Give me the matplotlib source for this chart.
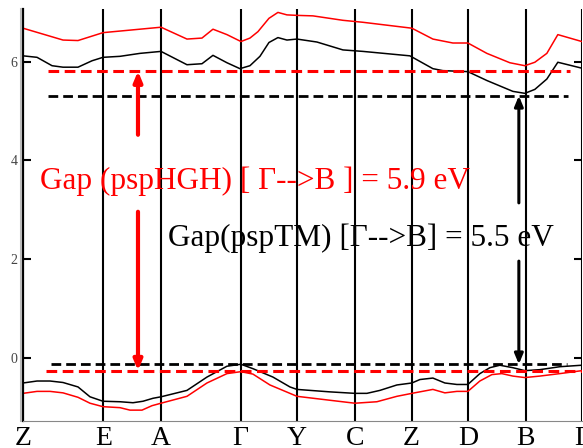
import matplotlib
matplotlib.use('Agg')
import matplotlib.pyplot as plt
from matplotlib.lines import Line2D

# k-path (distance along path)
kpoints = [0, 80.3, 138, 217.7, 274, 332, 388.7, 445.3, 502.7, 559]
klabels = ['Z', 'E', 'A', 'Γ', 'Y', 'C', 'Z', 'D', 'B', 'Γ']

# conduction band, pspHGH (red)
k_cb_hgh = [0, 40, 55, 80, 138, 164, 179, 190, 204, 218, 227, 235, 246, 255, 264, 274,
            290, 320, 340, 389, 410, 430, 445, 464, 487, 502, 512, 524, 535, 559]
cb_hgh = [6.68, 6.44, 6.43, 6.59, 6.70, 6.46, 6.48, 6.66, 6.55, 6.41, 6.48, 6.61, 6.88, 7.0, 6.95, 6.94,
          6.93, 6.84, 6.80, 6.68, 6.46, 6.38, 6.38, 6.17, 5.98, 5.92, 5.99, 6.17, 6.55, 6.41]

# conduction band, pspTM (black)
k_cb_tm = [0, 14, 29, 40, 55, 69, 80, 97, 117, 138, 164, 179, 190, 204, 217, 227, 237, 246, 255,
           264, 274, 294, 320, 340, 387, 410, 420, 445, 464, 490, 502, 512, 524, 535, 559]
cb_tm = [6.12, 6.09, 5.92, 5.89, 5.89, 6.02, 6.09, 6.11, 6.17, 6.21, 5.94, 5.96, 6.13, 5.98, 5.86, 5.92, 6.11, 6.39, 6.49,
         6.44, 6.46, 6.40, 6.24, 6.21, 6.12, 5.86, 5.82, 5.80, 5.62, 5.40, 5.36, 5.44, 5.65, 5.99, 5.87]

# valence band, pspTM (black)
k_vb_tm = [0, 14, 27, 40, 55, 67, 80, 97, 110, 120, 130, 138, 164, 184, 204, 218, 230, 250, 267,
           274, 307, 332, 344, 357, 374, 389, 397, 410, 422, 434, 445, 457, 467, 477, 490, 502, 517, 537, 559]
vb_tm = [-0.51, -0.47, -0.47, -0.50, -0.59, -0.79, -0.88, -0.89, -0.91, -0.88, -0.82, -0.79, -0.66, -0.39, -0.17, -0.13, -0.22, -0.39, -0.59,
         -0.64, -0.69, -0.72, -0.72, -0.66, -0.55, -0.51, -0.44, -0.41, -0.51, -0.54, -0.54, -0.32, -0.20, -0.15, -0.20, -0.26, -0.24, -0.18, -0.15]

# valence band, pspHGH (red)
k_vb_hgh = [0, 14, 27, 40, 55, 67, 80, 97, 107, 119, 129, 138, 164, 184, 204, 218, 230, 247, 267,
            274, 307, 332, 354, 374, 389, 410, 422, 434, 445, 457, 469, 479, 490, 502, 517, 537, 559]
vb_hgh = [-0.72, -0.68, -0.68, -0.71, -0.80, -0.92, -0.99, -1.01, -1.06, -1.06, -0.97, -0.92, -0.78, -0.51, -0.32, -0.28, -0.33, -0.55, -0.72,
          -0.78, -0.86, -0.92, -0.89, -0.78, -0.72, -0.64, -0.71, -0.68, -0.68, -0.47, -0.34, -0.32, -0.37, -0.40, -0.37, -0.32, -0.26]

# band edges
cbm_hgh, cbm_tm = 5.81, 5.31
vbm_tm, vbm_hgh = -0.13, -0.26

serif = 'Liberation Serif'

fig = plt.figure(figsize=(5.83, 4.48), dpi=100)
ax = fig.add_axes([0.0395, 0.0603, 0.9585, 0.9197])

for k in kpoints[1:]:
    ax.axvline(k, color='black', lw=1.5, zorder=1)

ax.plot(k_cb_hgh, cb_hgh, color='red', lw=1.1)
ax.plot(k_cb_tm, cb_tm, color='black', lw=1.1)
ax.plot(k_vb_hgh, vb_hgh, color='red', lw=1.1)
ax.plot(k_vb_tm, vb_tm, color='black', lw=1.1)

ax.plot([25, 547], [cbm_hgh, cbm_hgh], color='red', lw=2.2, dashes=(3.5, 1.8))
ax.plot([25, 545], [cbm_tm, cbm_tm], color='black', lw=2.0, dashes=(3.5, 1.8))
ax.plot([28, 544], [vbm_tm, vbm_tm], color='black', lw=2.0, dashes=(3.5, 1.8))
ax.plot([23, 559], [vbm_hgh, vbm_hgh], color='red', lw=2.2, dashes=(3.5, 1.8))

# arrows (split by the text)
red_arrow = dict(arrowstyle='-|>,head_length=0.6,head_width=0.25', color='red', lw=3, shrinkA=0, shrinkB=0)
blk_arrow = dict(arrowstyle='-|>,head_length=0.6,head_width=0.25', color='black', lw=2.2, shrinkA=0, shrinkB=0)
ax.annotate('', xy=(115, cbm_hgh), xytext=(115, 4.52), arrowprops=red_arrow)
ax.annotate('', xy=(115, vbm_hgh), xytext=(115, 2.96), arrowprops=red_arrow)
ax.annotate('', xy=(496, cbm_tm), xytext=(496, 3.14), arrowprops=blk_arrow)
ax.annotate('', xy=(496, vbm_tm), xytext=(496, 1.96), arrowprops=blk_arrow)

ax.text(17, 3.57, 'Gap (pspHGH) [ Γ-->B ] = 5.9 eV', color='red', fontsize=22.5,
        family=serif, va='center', ha='left')
ax.text(145, 2.42, 'Gap(pspTM) [Γ-->B] = 5.5 eV', color='black', fontsize=22.5,
        family=serif, va='center', ha='left')

ax.set_xlim(0, 559)
ax.set_ylim(-1.28, 7.07)

for s in ['top', 'right']:
    ax.spines[s].set_visible(False)
ax.spines['bottom'].set_color('#888888')
ax.spines['bottom'].set_linewidth(0.8)
ax.spines['left'].set_linewidth(1.6)
# light grey edge next to the left axis
fig.add_artist(Line2D([21.3 / 583, 21.3 / 583], [0.0603, 0.98], color='#bbbbbb', lw=1.5))

ax.set_yticks([0, 2, 4, 6])
ax.set_yticklabels(['0', '2', '4', '6'], family=serif, fontsize=10, color='#444444')
ax.tick_params(axis='y', direction='in', length=6, width=1.5, left=True, right=True, pad=4)
ax.set_xticks([])

for k, lab in zip(kpoints, klabels):
    ax.annotate(lab, xy=(k, 0), xycoords=('data', 'axes fraction'), xytext=(0, -24),
                textcoords='offset pixels', ha='center', va='baseline', fontsize=20, family=serif,
                annotation_clip=False)

fig.savefig('out.png', dpi=100)
